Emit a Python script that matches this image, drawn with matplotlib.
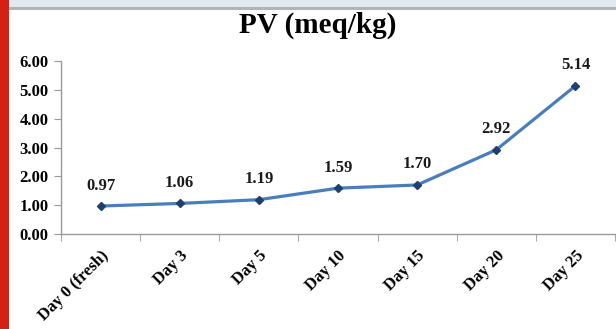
import matplotlib
matplotlib.use("Agg")
import matplotlib.pyplot as plt
from matplotlib.patches import Rectangle

categories = ["Day 0 (fresh)", "Day 3", "Day 5", "Day 10", "Day 15", "Day 20", "Day 25"]
pv_values = [0.97, 1.06, 1.19, 1.59, 1.70, 2.92, 5.14]
y_ticks = [0, 1, 2, 3, 4, 5, 6]
title = "PV (meq/kg)"

W, H = 616, 329
fig = plt.figure(figsize=(W / 100, H / 100), dpi=100)
fig.patch.set_facecolor("white")

# decorative frame pieces
fig.patches.append(Rectangle((0, 0), 8.5 / W, 1, transform=fig.transFigure,
                             facecolor="#d42114", edgecolor="none", zorder=5))
fig.patches.append(Rectangle((8.5 / W, 1 - 7 / H), 1, 7 / H, transform=fig.transFigure,
                             facecolor="#e3e9f0", edgecolor="none", zorder=4))
fig.patches.append(Rectangle((8.5 / W, 1 - 10 / H), 1, 3 / H, transform=fig.transFigure,
                             facecolor="#b3b3b3", edgecolor="none", zorder=4))

left, right = 61 / W, 615 / W
bottom, top = 1 - 234 / H, 1 - 61 / H
ax = fig.add_axes([left, bottom, right - left, top - bottom])

FONT = "Liberation Serif"
x = list(range(len(categories)))
ax.plot(x, pv_values, color="#4a7ebb", lw=2.3, marker="D", markersize=4.5,
        markerfacecolor="#1f3f6e", markeredgecolor="#1f3f6e", zorder=3)
for xi, v in zip(x, pv_values):
    ax.annotate(f"{v:.2f}", (xi, v), textcoords="offset points", xytext=(0, 9),
                ha="center", va="bottom", fontsize=12, fontweight="bold",
                family=FONT, color="#1a1a1a")

ax.set_xlim(-0.5, len(categories) - 0.5)
ax.set_ylim(0, 6)
ax.set_yticks(y_ticks)
ax.set_yticklabels([f"{t:.2f}" for t in y_ticks], fontsize=12, fontweight="bold",
                   family=FONT)
ax.set_xticks(x)
ax.set_xticklabels(categories, rotation=45, ha="right", rotation_mode="anchor",
                   fontsize=12, fontweight="bold", family=FONT)
ax.set_xticks([i - 0.5 for i in range(len(categories) + 1)], minor=True)
ax.tick_params(axis="x", which="major", length=0, pad=10)
ax.tick_params(axis="x", which="minor", length=5, color="#999999", direction="out")
ax.tick_params(axis="y", length=5, color="#999999", pad=4)

for s in ["top", "right"]:
    ax.spines[s].set_visible(False)
for s in ["left", "bottom"]:
    ax.spines[s].set_color("#999999")
    ax.spines[s].set_linewidth(1.0)

fig.text(318 / W, 1 - 25 / H, title, ha="center", va="center", fontsize=21,
         fontweight="bold", family=FONT)

fig.savefig("out.png", dpi=100)
